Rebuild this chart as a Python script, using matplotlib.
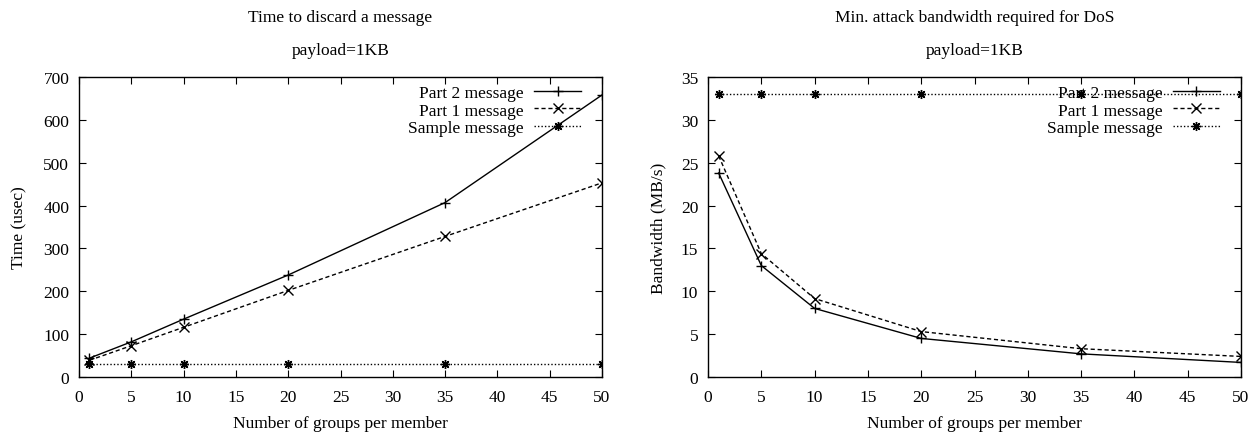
import matplotlib
matplotlib.use("Agg")
import matplotlib.pyplot as plt

plt.rcParams["font.family"] = ["Liberation Serif", "DejaVu Serif"]
plt.rcParams["font.size"] = 12.5

# ── DATA ──────────────────────────────────────────────────────────────────────
groups = [1, 5, 10, 20, 35, 50]

time_part2 = [44, 82, 135, 238, 407, 658]
time_part1 = [39, 73, 116, 202, 328, 453]
time_sample = [31, 31, 31, 31, 31, 31]

bw_part2 = [23.8, 13.0, 8.0, 4.5, 2.7, 1.7]
bw_part1 = [25.8, 14.4, 9.15, 5.3, 3.3, 2.4]
bw_sample = [33, 33, 33, 33, 33, 33]

labels = ["Part 2 message", "Part 1 message", "Sample message"]

# ── STYLE ─────────────────────────────────────────────────────────────────────
styles = [
    dict(linestyle="-", marker="+"),
    dict(linestyle=(0, (3, 2)), marker="x"),
    dict(linestyle=(0, (1, 1.5)), marker=(8, 2, 0)),
]


def draw(ax, series, title, ylabel, ylim, yticks, ylab_x):
    for ys, lab, st in zip(series, labels, styles):
        ax.plot(groups, ys, color="black", linewidth=1.0, markersize=6.5,
                markeredgewidth=1.0, label=lab, **st)
    ax.set_xlim(0, 50)
    ax.set_ylim(*ylim)
    ax.set_xticks(range(0, 51, 5))
    ax.set_yticks(yticks)
    ax.tick_params(direction="in", top=True, right=True, length=5, width=0.8)
    ax.tick_params(axis="x", pad=9)
    ax.tick_params(axis="y", pad=7)
    for s in ax.spines.values():
        s.set_linewidth(1.0)
    ax.set_xlabel("Number of groups per member", labelpad=7)
    ax.set_ylabel(ylabel)
    ax.yaxis.set_label_coords(ylab_x, 0.5)
    ax.text(0.5, (378 - 18) / 300, title, transform=ax.transAxes,
            ha="center", va="center")
    ax.text(0.5, (378 - 51) / 300, "payload=1KB", transform=ax.transAxes,
            ha="center", va="center")
    ax.legend(loc="upper right", bbox_to_anchor=(0.96, 0.975), frameon=False,
              markerfirst=False, handlelength=2.7, handletextpad=0.6,
              labelspacing=0.1, borderpad=0, borderaxespad=0)


fig = plt.figure(figsize=(12.56, 4.35), dpi=100)
ax1 = fig.add_axes([79 / 1256, 57 / 435, 523 / 1256, 300 / 435])
ax2 = fig.add_axes([708 / 1256, 57 / 435, 533 / 1256, 300 / 435])

draw(ax1, [time_part2, time_part1, time_sample], "Time to discard a message",
     "Time (usec)", (0, 700), range(0, 701, 100), (27 - 79) / 523)
draw(ax2, [bw_part2, bw_part1, bw_sample], "Min. attack bandwidth required for DoS",
     "Bandwidth (MB/s)", (0, 35), range(0, 36, 5), (666 - 708) / 533)

fig.savefig("out.png", dpi=100)
